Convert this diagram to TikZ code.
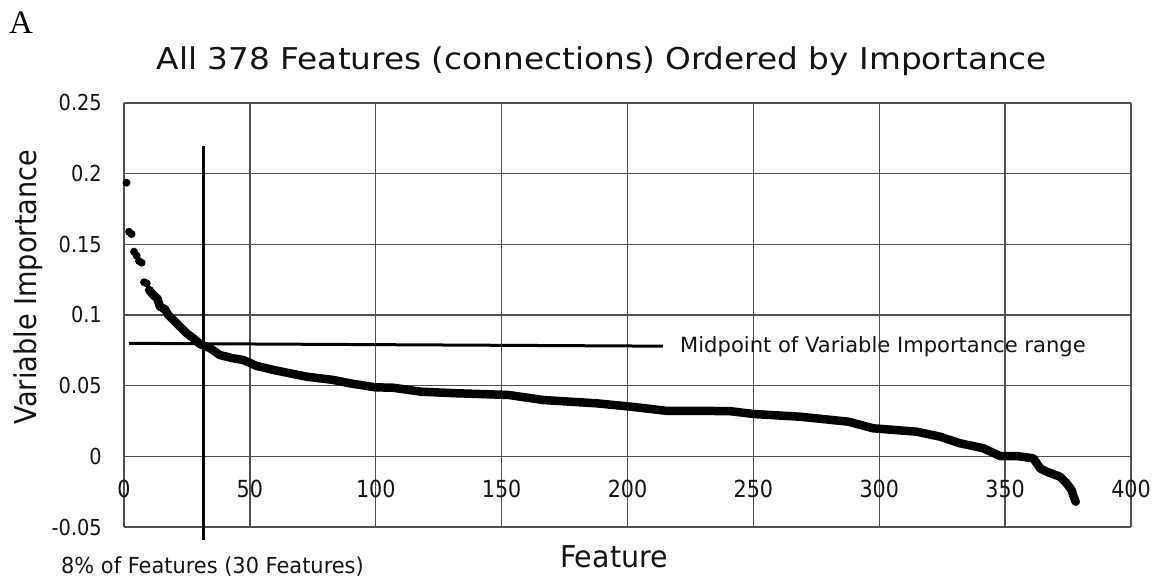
\documentclass[tikz,border=0pt]{standalone}
\usepackage{fontspec}
\setmainfont{DejaVu Sans}[FakeStretch=0.88]
\newfontfamily\panelfont{Liberation Serif}
\definecolor{gridgray}{HTML}{505050}
\definecolor{inkblack}{HTML}{141414}

\tikzset{
  gridline/.style={draw=gridgray, line width=1.4pt},
  markline/.style={draw=black, line width=3pt},
  datadot/.style={circle, fill=black, inner sep=0pt, minimum size=8pt},
  databand/.style={draw=black, line width=8.5pt, line cap=round, line join=round},
  titletext/.style={font=\fontsize{30}{36}\selectfont, text=inkblack, inner sep=0pt},
  axistext/.style={font=\fontsize{30}{36}\selectfont, text=inkblack, inner sep=0pt},
  yticktext/.style={font=\fontsize{22}{26}\selectfont, text=inkblack, inner sep=0pt},
  xticktext/.style={font=\fontsize{23.5}{28}\selectfont, text=inkblack, inner sep=0pt},
  notetext/.style={font=\fontsize{21}{25}\selectfont, text=inkblack, inner sep=0pt},
}

\begin{document}
\begin{tikzpicture}[x=1pt, y=-1pt]
  \useasboundingbox (0,0) rectangle (1161,579);
  \fill[white] (0,0) rectangle (1161,579);

  % panel letter and titles
  \node[anchor=base west, inner sep=0pt, font=\panelfont\fontsize{33}{38}\selectfont] (panel) at (9,33) {A};
  \node[titletext, anchor=base] (title) at (602,69) {\scalebox{1.24}[1]{All 378 Features (connections) Ordered by Importance}};
  \node[axistext, anchor=base] (xtitle) at (614,567) {\scalebox{1.08}[1]{Feature}};
  \node[axistext, anchor=base, rotate=90] (ytitle) at (36,287) {\scalebox{1.03}[1]{Variable Importance}};

  % chart area: x in feature rank, y in variable importance
  \begin{scope}[shift={(124pt,-456.3pt)}, x=2.5175pt, y=1414pt]
    % grid and frame
    \foreach \n in {0,50,...,400}
      \draw[gridline] (\n,-0.05) -- (\n,0.25);
    \foreach \v in {-0.05,0,0.05,0.1,0.15,0.2,0.25}
      \draw[gridline] (0,\v) -- (400,\v);

    % tick labels
    \foreach \v/\lab in {-0.05/-0.05,0/0,0.05/0.05,0.1/0.1,0.15/0.15,0.2/0.2,0.25/0.25}
      \node[yticktext, anchor=east, xshift=-22pt] (ytick\lab) at (0,\v) {\lab};
    \foreach \n in {0,50,...,400}
      \node[xticktext, anchor=base] (xtick\n) at (\n,-0.029) {\n};

    % isolated leading features
    \foreach \n/\v in {1/0.1935, 2/0.1588, 3/0.1572, 4/0.1447, 5/0.1419,
                       6/0.1381, 7/0.1369, 8/0.1231, 9/0.1223, 10/0.1176,
                       11.6/0.1141, 13.2/0.1117, 14.3/0.1058, 16.3/0.1040}
      \node[datadot] at (\n,\v) {};

    % remaining features, dense enough to merge into a band
    \draw[databand] plot coordinates {
      (10,0.1176) (11.6,0.1141) (13.2,0.1117) (14.3,0.1058) (16.3,0.1040)
      (17.6,0.0999) (19.6,0.0964) (22.2,0.0917) (24.9,0.0870) (27.5,0.0835)
      (30.2,0.0794) (34.2,0.0764) (38.1,0.0716) (43.4,0.0693) (47.4,0.0681)
      (52.7,0.0639) (59.3,0.0611) (65.9,0.0587) (72.6,0.0563) (83.1,0.0540)
      (90.1,0.0515) (99.8,0.0488) (106.9,0.0485) (117.9,0.0457) (131.8,0.0446)
      (152.7,0.0434) (166.6,0.0398) (187.5,0.0375) (201.4,0.0351) (215.3,0.0322)
      (240.4,0.0320) (250.1,0.0299) (268.5,0.0280) (287.7,0.0245) (297.6,0.0198)
      (314.9,0.0174) (324.1,0.0139) (332.1,0.0092) (341.3,0.0057) (348,0.0002)
      (354.6,0.0002) (361.2,-0.0014) (363.9,-0.0085) (366.5,-0.0109) (371.8,-0.0144)
      (374.4,-0.0191) (376.4,-0.0238) (377,-0.0274) (378,-0.0321)};
    \node[datadot] at (378,-0.0321) {};

    % cut-off markers
    \coordinate (cutTop) at (31.4,0.2192);
    \coordinate (cutBottom) at (31.4,-0.0592);
    \coordinate (midLeft) at (2,0.0799);
    \coordinate (midRight) at (214,0.0779);
    \draw[markline] (cutTop) -- (cutBottom);
    \draw[markline] (midLeft) -- (midRight);
  \end{scope}

  \node[notetext, anchor=base west] (midlabel) at (680,352.7) {\scalebox{1.14}[1]{Midpoint of Variable Importance range}};
  \node[notetext, font=\fontsize{22}{26}\selectfont, anchor=base] (cutlabel) at (212.5,573) {\scalebox{1.08}[1]{8\% of Features (30 Features)}};
\end{tikzpicture}
\end{document}
